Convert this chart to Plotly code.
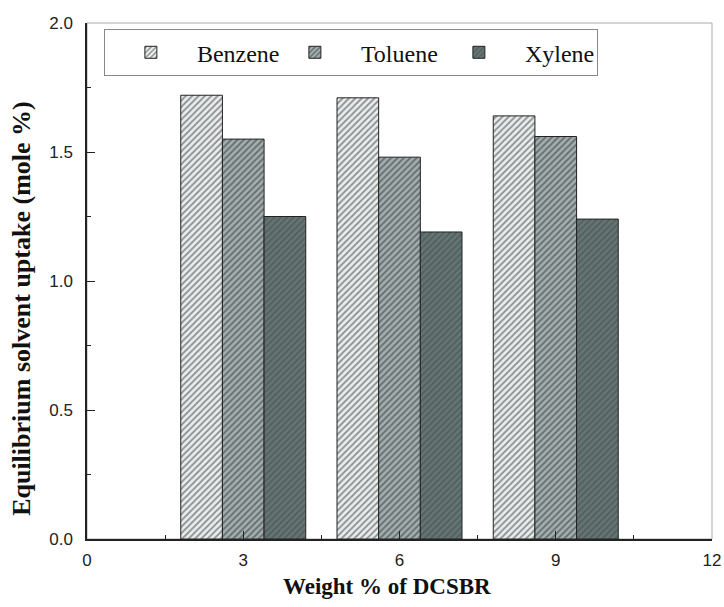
import plotly.graph_objects as go

# Weight % of DCSBR in the blend
weights = [3, 6, 9]

# Equilibrium solvent uptake (mole %) for each solvent
benzene = [1.72, 1.71, 1.64]
toluene = [1.55, 1.48, 1.56]
xylene = [1.25, 1.19, 1.24]

series = [
    ("Benzene", benzene, "#eaeeee", "#333333"),
    ("Toluene", toluene, "#a4aeae", "#263030"),
    ("Xylene", xylene, "#667474", "#3e4a4a"),
]

fig = go.Figure()
for name, vals, bg, fg in series:
    fig.add_trace(go.Bar(
        x=weights, y=vals, name=name,
        marker=dict(
            color=bg,
            line=dict(color="#222222", width=1),
            pattern=dict(shape="/", bgcolor=bg, fgcolor=fg,
                         size=4.5, solidity=0.4, fillmode="overlay"),
        ),
    ))

title_font = dict(family="Liberation Serif", size=23, color="#111")

fig.update_layout(
    width=724, height=607,
    margin=dict(l=87, r=12, t=23, b=68),
    paper_bgcolor="white", plot_bgcolor="white",
    barmode="group", bargap=0.2, bargroupgap=0,
    showlegend=True,
    legend=dict(
        orientation="h", x=0.027, y=0.988, xanchor="left", yanchor="top",
        bgcolor="white", bordercolor="#888888", borderwidth=1,
        font=dict(family="Liberation Serif", size=24, color="#111111"),
        entrywidth=67, itemwidth=82, traceorder="normal",
    ),
    xaxis=dict(
        range=[0, 12], tickvals=[0, 3, 6, 9, 12],
        ticks="inside", ticklen=8, tickcolor="#222", tickwidth=1,
        minor=dict(ticks="inside", ticklen=4, dtick=1.5, tickcolor="#222"),
        showline=True, linecolor="#222", linewidth=1.5,
        showgrid=False, zeroline=False, ticklabelstandoff=5, automargin=False,
        tickfont=dict(family="Liberation Sans", size=17, color="#222"),
    ),
    yaxis=dict(
        range=[0, 2.0], tickvals=[0, 0.5, 1.0, 1.5, 2.0],
        ticktext=["0.0", "0.5", "1.0", "1.5", "2.0"],
        ticks="inside", ticklen=8, tickcolor="#222", tickwidth=1,
        minor=dict(ticks="inside", ticklen=4, dtick=0.25, tickcolor="#222"),
        showline=True, linecolor="#222", linewidth=1.5,
        showgrid=False, zeroline=False, ticklabelstandoff=9, automargin=False,
        tickfont=dict(family="Liberation Sans", size=17, color="#222"),
    ),
    annotations=[
        dict(text="<b>Weight % of DCSBR</b>", xref="paper", yref="paper",
             x=0.48, y=-0.093, xanchor="center", yanchor="middle",
             showarrow=False, font=title_font),
        dict(text="<b>Equilibrium solvent uptake (mole %)</b>", xref="paper", yref="paper",
             x=-0.104, y=0.446, xanchor="center", yanchor="middle", textangle=-90,
             showarrow=False, font=dict(family="Liberation Serif", size=26, color="#111")),
    ],
    shapes=[dict(type="rect", xref="paper", yref="paper", x0=0, y0=0, x1=1, y1=1,
                 line=dict(color="#aaaaaa", width=1), layer="below")],
)

fig.write_html("out.html")
